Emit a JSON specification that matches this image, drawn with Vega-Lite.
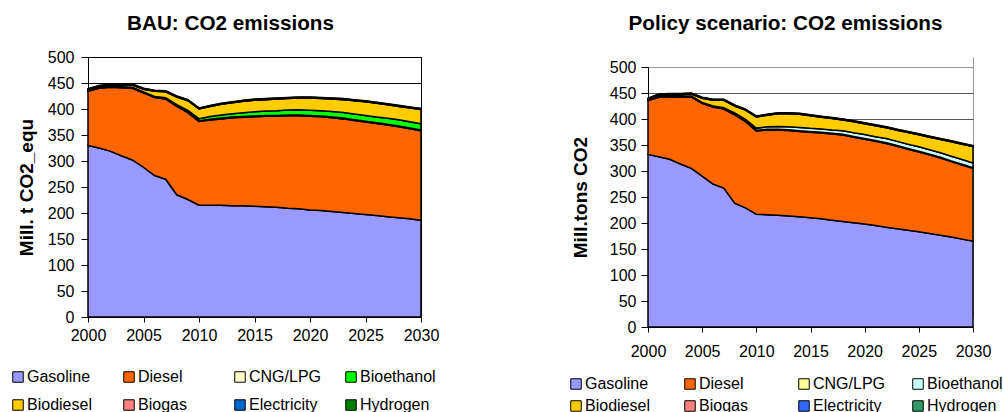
{
"$schema": "https://vega.github.io/schema/vega-lite/v6.json",
"padding": {"left": 9, "top": 12, "right": 4, "bottom": 0},
"spacing": 128,
"config": {
 "font": "Liberation Sans",
 "axis": {"labelFont": "Liberation Sans", "labelFontSize": 16, "labelColor": "black", "tickColor": "black", "domainColor": "black", "titleFont": "Liberation Sans", "titleFontSize": 19, "titleFontWeight": "bold", "titleColor": "black"},
 "title": {"font": "Liberation Sans", "fontSize": 20.7, "fontWeight": "bold", "color": "black"},
 "legend": {"labelFont": "Liberation Sans", "labelFontSize": 16, "labelColor": "black", "symbolType": "square", "symbolSize": 110, "symbolStrokeColor": "black", "symbolStrokeWidth": 1, "symbolOpacity": 1, "labelOffset": 1, "labelLimit": 0, "columns": 4, "direction": "horizontal", "gridAlign": "all", "columnPadding": 18}
},
"datasets": {
"bau": [
{"year":2000,"fuel":"Gasoline","value":330},{"year":2001,"fuel":"Gasoline","value":325},{"year":2002,"fuel":"Gasoline","value":319},{"year":2003,"fuel":"Gasoline","value":310},{"year":2004,"fuel":"Gasoline","value":302},{"year":2005,"fuel":"Gasoline","value":288},{"year":2006,"fuel":"Gasoline","value":272},{"year":2007,"fuel":"Gasoline","value":265},{"year":2008,"fuel":"Gasoline","value":235},{"year":2009,"fuel":"Gasoline","value":226},{"year":2010,"fuel":"Gasoline","value":215},{"year":2011,"fuel":"Gasoline","value":215},{"year":2012,"fuel":"Gasoline","value":215},{"year":2013,"fuel":"Gasoline","value":214},{"year":2014,"fuel":"Gasoline","value":214},{"year":2015,"fuel":"Gasoline","value":213},{"year":2016,"fuel":"Gasoline","value":212},{"year":2017,"fuel":"Gasoline","value":211},{"year":2018,"fuel":"Gasoline","value":209},{"year":2019,"fuel":"Gasoline","value":208},{"year":2020,"fuel":"Gasoline","value":206},{"year":2021,"fuel":"Gasoline","value":205},{"year":2022,"fuel":"Gasoline","value":203},{"year":2023,"fuel":"Gasoline","value":201},{"year":2024,"fuel":"Gasoline","value":199},{"year":2025,"fuel":"Gasoline","value":197},{"year":2026,"fuel":"Gasoline","value":195},{"year":2027,"fuel":"Gasoline","value":193},{"year":2028,"fuel":"Gasoline","value":191},{"year":2029,"fuel":"Gasoline","value":189},{"year":2030,"fuel":"Gasoline","value":186},
{"year":2000,"fuel":"Diesel","value":104},{"year":2001,"fuel":"Diesel","value":115},{"year":2002,"fuel":"Diesel","value":123},{"year":2003,"fuel":"Diesel","value":131},{"year":2004,"fuel":"Diesel","value":138},{"year":2005,"fuel":"Diesel","value":143},{"year":2006,"fuel":"Diesel","value":150},{"year":2007,"fuel":"Diesel","value":154},{"year":2008,"fuel":"Diesel","value":170},{"year":2009,"fuel":"Diesel","value":167},{"year":2010,"fuel":"Diesel","value":161},{"year":2011,"fuel":"Diesel","value":164},{"year":2012,"fuel":"Diesel","value":166},{"year":2013,"fuel":"Diesel","value":169},{"year":2014,"fuel":"Diesel","value":170},{"year":2015,"fuel":"Diesel","value":172},{"year":2016,"fuel":"Diesel","value":174},{"year":2017,"fuel":"Diesel","value":175},{"year":2018,"fuel":"Diesel","value":178},{"year":2019,"fuel":"Diesel","value":179},{"year":2020,"fuel":"Diesel","value":180},{"year":2021,"fuel":"Diesel","value":180},{"year":2022,"fuel":"Diesel","value":180},{"year":2023,"fuel":"Diesel","value":180},{"year":2024,"fuel":"Diesel","value":179},{"year":2025,"fuel":"Diesel","value":178},{"year":2026,"fuel":"Diesel","value":177},{"year":2027,"fuel":"Diesel","value":176},{"year":2028,"fuel":"Diesel","value":175},{"year":2029,"fuel":"Diesel","value":173},{"year":2030,"fuel":"Diesel","value":172},
{"year":2000,"fuel":"CNG/LPG","value":1.5},{"year":2001,"fuel":"CNG/LPG","value":1.5},{"year":2002,"fuel":"CNG/LPG","value":1.5},{"year":2003,"fuel":"CNG/LPG","value":1.5},{"year":2004,"fuel":"CNG/LPG","value":1.5},{"year":2005,"fuel":"CNG/LPG","value":1.5},{"year":2006,"fuel":"CNG/LPG","value":1.5},{"year":2007,"fuel":"CNG/LPG","value":1.5},{"year":2008,"fuel":"CNG/LPG","value":1.5},{"year":2009,"fuel":"CNG/LPG","value":1.5},{"year":2010,"fuel":"CNG/LPG","value":1.5},{"year":2011,"fuel":"CNG/LPG","value":1.5},{"year":2012,"fuel":"CNG/LPG","value":1.5},{"year":2013,"fuel":"CNG/LPG","value":1.5},{"year":2014,"fuel":"CNG/LPG","value":1.5},{"year":2015,"fuel":"CNG/LPG","value":1.5},{"year":2016,"fuel":"CNG/LPG","value":1.5},{"year":2017,"fuel":"CNG/LPG","value":1.5},{"year":2018,"fuel":"CNG/LPG","value":1.5},{"year":2019,"fuel":"CNG/LPG","value":1.5},{"year":2020,"fuel":"CNG/LPG","value":1.5},{"year":2021,"fuel":"CNG/LPG","value":1.5},{"year":2022,"fuel":"CNG/LPG","value":1.5},{"year":2023,"fuel":"CNG/LPG","value":1.5},{"year":2024,"fuel":"CNG/LPG","value":1.5},{"year":2025,"fuel":"CNG/LPG","value":1.5},{"year":2026,"fuel":"CNG/LPG","value":1.5},{"year":2027,"fuel":"CNG/LPG","value":1.5},{"year":2028,"fuel":"CNG/LPG","value":1.5},{"year":2029,"fuel":"CNG/LPG","value":1.5},{"year":2030,"fuel":"CNG/LPG","value":1.5},
{"year":2000,"fuel":"Bioethanol","value":0.5},{"year":2001,"fuel":"Bioethanol","value":0.5},{"year":2002,"fuel":"Bioethanol","value":0.5},{"year":2003,"fuel":"Bioethanol","value":0.5},{"year":2004,"fuel":"Bioethanol","value":0.5},{"year":2005,"fuel":"Bioethanol","value":0.5},{"year":2006,"fuel":"Bioethanol","value":0.5},{"year":2007,"fuel":"Bioethanol","value":1},{"year":2008,"fuel":"Bioethanol","value":2},{"year":2009,"fuel":"Bioethanol","value":3},{"year":2010,"fuel":"Bioethanol","value":4},{"year":2011,"fuel":"Bioethanol","value":5},{"year":2012,"fuel":"Bioethanol","value":6},{"year":2013,"fuel":"Bioethanol","value":6.5},{"year":2014,"fuel":"Bioethanol","value":7.5},{"year":2015,"fuel":"Bioethanol","value":8},{"year":2016,"fuel":"Bioethanol","value":8.5},{"year":2017,"fuel":"Bioethanol","value":9},{"year":2018,"fuel":"Bioethanol","value":9.5},{"year":2019,"fuel":"Bioethanol","value":10},{"year":2020,"fuel":"Bioethanol","value":10},{"year":2021,"fuel":"Bioethanol","value":10.2},{"year":2022,"fuel":"Bioethanol","value":10.5},{"year":2023,"fuel":"Bioethanol","value":10.7},{"year":2024,"fuel":"Bioethanol","value":11},{"year":2025,"fuel":"Bioethanol","value":11},{"year":2026,"fuel":"Bioethanol","value":11.3},{"year":2027,"fuel":"Bioethanol","value":11.5},{"year":2028,"fuel":"Bioethanol","value":11.7},{"year":2029,"fuel":"Bioethanol","value":12},{"year":2030,"fuel":"Bioethanol","value":12},
{"year":2000,"fuel":"Biodiesel","value":1},{"year":2001,"fuel":"Biodiesel","value":1},{"year":2002,"fuel":"Biodiesel","value":2},{"year":2003,"fuel":"Biodiesel","value":3},{"year":2004,"fuel":"Biodiesel","value":4},{"year":2005,"fuel":"Biodiesel","value":5},{"year":2006,"fuel":"Biodiesel","value":10},{"year":2007,"fuel":"Biodiesel","value":11.5},{"year":2008,"fuel":"Biodiesel","value":14.5},{"year":2009,"fuel":"Biodiesel","value":18.5},{"year":2010,"fuel":"Biodiesel","value":18.5},{"year":2011,"fuel":"Biodiesel","value":19.5},{"year":2012,"fuel":"Biodiesel","value":20.5},{"year":2013,"fuel":"Biodiesel","value":21},{"year":2014,"fuel":"Biodiesel","value":22},{"year":2015,"fuel":"Biodiesel","value":22.5},{"year":2016,"fuel":"Biodiesel","value":22},{"year":2017,"fuel":"Biodiesel","value":22.5},{"year":2018,"fuel":"Biodiesel","value":22},{"year":2019,"fuel":"Biodiesel","value":22.5},{"year":2020,"fuel":"Biodiesel","value":23.5},{"year":2021,"fuel":"Biodiesel","value":23.3},{"year":2022,"fuel":"Biodiesel","value":24},{"year":2023,"fuel":"Biodiesel","value":24.8},{"year":2024,"fuel":"Biodiesel","value":25.5},{"year":2025,"fuel":"Biodiesel","value":26.5},{"year":2026,"fuel":"Biodiesel","value":26.2},{"year":2027,"fuel":"Biodiesel","value":26},{"year":2028,"fuel":"Biodiesel","value":25.8},{"year":2029,"fuel":"Biodiesel","value":26.5},{"year":2030,"fuel":"Biodiesel","value":27.5},
{"year":2000,"fuel":"Biogas","value":0.5},{"year":2001,"fuel":"Biogas","value":0.5},{"year":2002,"fuel":"Biogas","value":0.5},{"year":2003,"fuel":"Biogas","value":0.5},{"year":2004,"fuel":"Biogas","value":0.5},{"year":2005,"fuel":"Biogas","value":0.5},{"year":2006,"fuel":"Biogas","value":0.5},{"year":2007,"fuel":"Biogas","value":0.5},{"year":2008,"fuel":"Biogas","value":0.5},{"year":2009,"fuel":"Biogas","value":0.5},{"year":2010,"fuel":"Biogas","value":0.5},{"year":2011,"fuel":"Biogas","value":0.5},{"year":2012,"fuel":"Biogas","value":0.5},{"year":2013,"fuel":"Biogas","value":0.5},{"year":2014,"fuel":"Biogas","value":0.5},{"year":2015,"fuel":"Biogas","value":0.5},{"year":2016,"fuel":"Biogas","value":0.5},{"year":2017,"fuel":"Biogas","value":0.5},{"year":2018,"fuel":"Biogas","value":0.5},{"year":2019,"fuel":"Biogas","value":0.5},{"year":2020,"fuel":"Biogas","value":0.5},{"year":2021,"fuel":"Biogas","value":0.5},{"year":2022,"fuel":"Biogas","value":0.5},{"year":2023,"fuel":"Biogas","value":0.5},{"year":2024,"fuel":"Biogas","value":0.5},{"year":2025,"fuel":"Biogas","value":0.5},{"year":2026,"fuel":"Biogas","value":0.5},{"year":2027,"fuel":"Biogas","value":0.5},{"year":2028,"fuel":"Biogas","value":0.5},{"year":2029,"fuel":"Biogas","value":0.5},{"year":2030,"fuel":"Biogas","value":0.5},
{"year":2000,"fuel":"Electricity","value":1},{"year":2001,"fuel":"Electricity","value":1},{"year":2002,"fuel":"Electricity","value":1},{"year":2003,"fuel":"Electricity","value":1},{"year":2004,"fuel":"Electricity","value":1},{"year":2005,"fuel":"Electricity","value":1},{"year":2006,"fuel":"Electricity","value":1},{"year":2007,"fuel":"Electricity","value":1},{"year":2008,"fuel":"Electricity","value":1},{"year":2009,"fuel":"Electricity","value":1},{"year":2010,"fuel":"Electricity","value":1},{"year":2011,"fuel":"Electricity","value":1},{"year":2012,"fuel":"Electricity","value":1},{"year":2013,"fuel":"Electricity","value":1},{"year":2014,"fuel":"Electricity","value":1},{"year":2015,"fuel":"Electricity","value":1},{"year":2016,"fuel":"Electricity","value":1},{"year":2017,"fuel":"Electricity","value":1},{"year":2018,"fuel":"Electricity","value":1},{"year":2019,"fuel":"Electricity","value":1},{"year":2020,"fuel":"Electricity","value":1},{"year":2021,"fuel":"Electricity","value":1},{"year":2022,"fuel":"Electricity","value":1},{"year":2023,"fuel":"Electricity","value":1},{"year":2024,"fuel":"Electricity","value":1},{"year":2025,"fuel":"Electricity","value":1},{"year":2026,"fuel":"Electricity","value":1},{"year":2027,"fuel":"Electricity","value":1},{"year":2028,"fuel":"Electricity","value":1},{"year":2029,"fuel":"Electricity","value":1},{"year":2030,"fuel":"Electricity","value":1},
{"year":2000,"fuel":"Hydrogen","value":0.5},{"year":2001,"fuel":"Hydrogen","value":0.5},{"year":2002,"fuel":"Hydrogen","value":0.5},{"year":2003,"fuel":"Hydrogen","value":0.5},{"year":2004,"fuel":"Hydrogen","value":0.5},{"year":2005,"fuel":"Hydrogen","value":0.5},{"year":2006,"fuel":"Hydrogen","value":0.5},{"year":2007,"fuel":"Hydrogen","value":0.5},{"year":2008,"fuel":"Hydrogen","value":0.5},{"year":2009,"fuel":"Hydrogen","value":0.5},{"year":2010,"fuel":"Hydrogen","value":0.5},{"year":2011,"fuel":"Hydrogen","value":0.5},{"year":2012,"fuel":"Hydrogen","value":0.5},{"year":2013,"fuel":"Hydrogen","value":0.5},{"year":2014,"fuel":"Hydrogen","value":0.5},{"year":2015,"fuel":"Hydrogen","value":0.5},{"year":2016,"fuel":"Hydrogen","value":0.5},{"year":2017,"fuel":"Hydrogen","value":0.5},{"year":2018,"fuel":"Hydrogen","value":0.5},{"year":2019,"fuel":"Hydrogen","value":0.5},{"year":2020,"fuel":"Hydrogen","value":0.5},{"year":2021,"fuel":"Hydrogen","value":0.5},{"year":2022,"fuel":"Hydrogen","value":0.5},{"year":2023,"fuel":"Hydrogen","value":0.5},{"year":2024,"fuel":"Hydrogen","value":0.5},{"year":2025,"fuel":"Hydrogen","value":0.5},{"year":2026,"fuel":"Hydrogen","value":0.5},{"year":2027,"fuel":"Hydrogen","value":0.5},{"year":2028,"fuel":"Hydrogen","value":0.5},{"year":2029,"fuel":"Hydrogen","value":0.5},{"year":2030,"fuel":"Hydrogen","value":0.5}
],
"policy": [
{"year":2000,"fuel":"Gasoline","value":332},{"year":2001,"fuel":"Gasoline","value":327.5},{"year":2002,"fuel":"Gasoline","value":322.5},{"year":2003,"fuel":"Gasoline","value":313.5},{"year":2004,"fuel":"Gasoline","value":305},{"year":2005,"fuel":"Gasoline","value":290},{"year":2006,"fuel":"Gasoline","value":275},{"year":2007,"fuel":"Gasoline","value":267},{"year":2008,"fuel":"Gasoline","value":238},{"year":2009,"fuel":"Gasoline","value":229},{"year":2010,"fuel":"Gasoline","value":217},{"year":2011,"fuel":"Gasoline","value":216},{"year":2012,"fuel":"Gasoline","value":215},{"year":2013,"fuel":"Gasoline","value":213.5},{"year":2014,"fuel":"Gasoline","value":212},{"year":2015,"fuel":"Gasoline","value":210},{"year":2016,"fuel":"Gasoline","value":208},{"year":2017,"fuel":"Gasoline","value":205.5},{"year":2018,"fuel":"Gasoline","value":203},{"year":2019,"fuel":"Gasoline","value":200.5},{"year":2020,"fuel":"Gasoline","value":198},{"year":2021,"fuel":"Gasoline","value":195},{"year":2022,"fuel":"Gasoline","value":192},{"year":2023,"fuel":"Gasoline","value":189},{"year":2024,"fuel":"Gasoline","value":186},{"year":2025,"fuel":"Gasoline","value":183},{"year":2026,"fuel":"Gasoline","value":180},{"year":2027,"fuel":"Gasoline","value":176.5},{"year":2028,"fuel":"Gasoline","value":173},{"year":2029,"fuel":"Gasoline","value":169},{"year":2030,"fuel":"Gasoline","value":165},
{"year":2000,"fuel":"Diesel","value":103.5},{"year":2001,"fuel":"Diesel","value":114.5},{"year":2002,"fuel":"Diesel","value":120.5},{"year":2003,"fuel":"Diesel","value":128.5},{"year":2004,"fuel":"Diesel","value":137},{"year":2005,"fuel":"Diesel","value":140},{"year":2006,"fuel":"Diesel","value":148},{"year":2007,"fuel":"Diesel","value":152},{"year":2008,"fuel":"Diesel","value":170},{"year":2009,"fuel":"Diesel","value":166},{"year":2010,"fuel":"Diesel","value":160},{"year":2011,"fuel":"Diesel","value":163},{"year":2012,"fuel":"Diesel","value":164},{"year":2013,"fuel":"Diesel","value":164.5},{"year":2014,"fuel":"Diesel","value":164},{"year":2015,"fuel":"Diesel","value":164.5},{"year":2016,"fuel":"Diesel","value":165},{"year":2017,"fuel":"Diesel","value":165.5},{"year":2018,"fuel":"Diesel","value":166},{"year":2019,"fuel":"Diesel","value":164.5},{"year":2020,"fuel":"Diesel","value":163},{"year":2021,"fuel":"Diesel","value":162},{"year":2022,"fuel":"Diesel","value":161},{"year":2023,"fuel":"Diesel","value":158.5},{"year":2024,"fuel":"Diesel","value":156},{"year":2025,"fuel":"Diesel","value":153.5},{"year":2026,"fuel":"Diesel","value":151},{"year":2027,"fuel":"Diesel","value":148.5},{"year":2028,"fuel":"Diesel","value":145},{"year":2029,"fuel":"Diesel","value":142.5},{"year":2030,"fuel":"Diesel","value":140},
{"year":2000,"fuel":"CNG/LPG","value":1.5},{"year":2001,"fuel":"CNG/LPG","value":1.5},{"year":2002,"fuel":"CNG/LPG","value":1.5},{"year":2003,"fuel":"CNG/LPG","value":1.5},{"year":2004,"fuel":"CNG/LPG","value":1.5},{"year":2005,"fuel":"CNG/LPG","value":1.5},{"year":2006,"fuel":"CNG/LPG","value":1.5},{"year":2007,"fuel":"CNG/LPG","value":1.5},{"year":2008,"fuel":"CNG/LPG","value":1.5},{"year":2009,"fuel":"CNG/LPG","value":1.5},{"year":2010,"fuel":"CNG/LPG","value":1.5},{"year":2011,"fuel":"CNG/LPG","value":1.5},{"year":2012,"fuel":"CNG/LPG","value":1.5},{"year":2013,"fuel":"CNG/LPG","value":1.5},{"year":2014,"fuel":"CNG/LPG","value":1.5},{"year":2015,"fuel":"CNG/LPG","value":1.5},{"year":2016,"fuel":"CNG/LPG","value":1.5},{"year":2017,"fuel":"CNG/LPG","value":1.5},{"year":2018,"fuel":"CNG/LPG","value":1.5},{"year":2019,"fuel":"CNG/LPG","value":1.5},{"year":2020,"fuel":"CNG/LPG","value":1.5},{"year":2021,"fuel":"CNG/LPG","value":1.5},{"year":2022,"fuel":"CNG/LPG","value":1.5},{"year":2023,"fuel":"CNG/LPG","value":1.5},{"year":2024,"fuel":"CNG/LPG","value":1.5},{"year":2025,"fuel":"CNG/LPG","value":1.5},{"year":2026,"fuel":"CNG/LPG","value":1.5},{"year":2027,"fuel":"CNG/LPG","value":1.5},{"year":2028,"fuel":"CNG/LPG","value":1.5},{"year":2029,"fuel":"CNG/LPG","value":1.5},{"year":2030,"fuel":"CNG/LPG","value":1.5},
{"year":2000,"fuel":"Bioethanol","value":0.5},{"year":2001,"fuel":"Bioethanol","value":0.5},{"year":2002,"fuel":"Bioethanol","value":0.5},{"year":2003,"fuel":"Bioethanol","value":0.5},{"year":2004,"fuel":"Bioethanol","value":0.5},{"year":2005,"fuel":"Bioethanol","value":0.5},{"year":2006,"fuel":"Bioethanol","value":0.5},{"year":2007,"fuel":"Bioethanol","value":1},{"year":2008,"fuel":"Bioethanol","value":2},{"year":2009,"fuel":"Bioethanol","value":3},{"year":2010,"fuel":"Bioethanol","value":4},{"year":2011,"fuel":"Bioethanol","value":4.5},{"year":2012,"fuel":"Bioethanol","value":5},{"year":2013,"fuel":"Bioethanol","value":5.5},{"year":2014,"fuel":"Bioethanol","value":6},{"year":2015,"fuel":"Bioethanol","value":6},{"year":2016,"fuel":"Bioethanol","value":6.5},{"year":2017,"fuel":"Bioethanol","value":6.5},{"year":2018,"fuel":"Bioethanol","value":7},{"year":2019,"fuel":"Bioethanol","value":7},{"year":2020,"fuel":"Bioethanol","value":7.5},{"year":2021,"fuel":"Bioethanol","value":7.5},{"year":2022,"fuel":"Bioethanol","value":8},{"year":2023,"fuel":"Bioethanol","value":8},{"year":2024,"fuel":"Bioethanol","value":8},{"year":2025,"fuel":"Bioethanol","value":8.5},{"year":2026,"fuel":"Bioethanol","value":8.5},{"year":2027,"fuel":"Bioethanol","value":8.5},{"year":2028,"fuel":"Bioethanol","value":9},{"year":2029,"fuel":"Bioethanol","value":9},{"year":2030,"fuel":"Bioethanol","value":9},
{"year":2000,"fuel":"Biodiesel","value":0.5},{"year":2001,"fuel":"Biodiesel","value":2},{"year":2002,"fuel":"Biodiesel","value":2},{"year":2003,"fuel":"Biodiesel","value":3},{"year":2004,"fuel":"Biodiesel","value":4},{"year":2005,"fuel":"Biodiesel","value":8},{"year":2006,"fuel":"Biodiesel","value":11},{"year":2007,"fuel":"Biodiesel","value":14.5},{"year":2008,"fuel":"Biodiesel","value":13.5},{"year":2009,"fuel":"Biodiesel","value":17.5},{"year":2010,"fuel":"Biodiesel","value":21.5},{"year":2011,"fuel":"Biodiesel","value":22},{"year":2012,"fuel":"Biodiesel","value":24.5},{"year":2013,"fuel":"Biodiesel","value":25},{"year":2014,"fuel":"Biodiesel","value":25.5},{"year":2015,"fuel":"Biodiesel","value":24},{"year":2016,"fuel":"Biodiesel","value":22.5},{"year":2017,"fuel":"Biodiesel","value":22},{"year":2018,"fuel":"Biodiesel","value":20.5},{"year":2019,"fuel":"Biodiesel","value":21},{"year":2020,"fuel":"Biodiesel","value":21},{"year":2021,"fuel":"Biodiesel","value":21},{"year":2022,"fuel":"Biodiesel","value":20.5},{"year":2023,"fuel":"Biodiesel","value":21.5},{"year":2024,"fuel":"Biodiesel","value":22.5},{"year":2025,"fuel":"Biodiesel","value":23},{"year":2026,"fuel":"Biodiesel","value":24},{"year":2027,"fuel":"Biodiesel","value":25.5},{"year":2028,"fuel":"Biodiesel","value":27.5},{"year":2029,"fuel":"Biodiesel","value":29.5},{"year":2030,"fuel":"Biodiesel","value":31.5},
{"year":2000,"fuel":"Biogas","value":0.5},{"year":2001,"fuel":"Biogas","value":0.5},{"year":2002,"fuel":"Biogas","value":0.5},{"year":2003,"fuel":"Biogas","value":0.5},{"year":2004,"fuel":"Biogas","value":0.5},{"year":2005,"fuel":"Biogas","value":0.5},{"year":2006,"fuel":"Biogas","value":0.5},{"year":2007,"fuel":"Biogas","value":0.5},{"year":2008,"fuel":"Biogas","value":0.5},{"year":2009,"fuel":"Biogas","value":0.5},{"year":2010,"fuel":"Biogas","value":0.5},{"year":2011,"fuel":"Biogas","value":0.5},{"year":2012,"fuel":"Biogas","value":0.5},{"year":2013,"fuel":"Biogas","value":0.5},{"year":2014,"fuel":"Biogas","value":0.5},{"year":2015,"fuel":"Biogas","value":0.5},{"year":2016,"fuel":"Biogas","value":0.5},{"year":2017,"fuel":"Biogas","value":0.5},{"year":2018,"fuel":"Biogas","value":0.5},{"year":2019,"fuel":"Biogas","value":0.5},{"year":2020,"fuel":"Biogas","value":0.5},{"year":2021,"fuel":"Biogas","value":0.5},{"year":2022,"fuel":"Biogas","value":0.5},{"year":2023,"fuel":"Biogas","value":0.5},{"year":2024,"fuel":"Biogas","value":0.5},{"year":2025,"fuel":"Biogas","value":0.5},{"year":2026,"fuel":"Biogas","value":0.5},{"year":2027,"fuel":"Biogas","value":0.5},{"year":2028,"fuel":"Biogas","value":0.5},{"year":2029,"fuel":"Biogas","value":0.5},{"year":2030,"fuel":"Biogas","value":0.5},
{"year":2000,"fuel":"Electricity","value":1},{"year":2001,"fuel":"Electricity","value":1},{"year":2002,"fuel":"Electricity","value":1},{"year":2003,"fuel":"Electricity","value":1},{"year":2004,"fuel":"Electricity","value":1},{"year":2005,"fuel":"Electricity","value":1},{"year":2006,"fuel":"Electricity","value":1},{"year":2007,"fuel":"Electricity","value":1},{"year":2008,"fuel":"Electricity","value":1},{"year":2009,"fuel":"Electricity","value":1},{"year":2010,"fuel":"Electricity","value":1},{"year":2011,"fuel":"Electricity","value":1},{"year":2012,"fuel":"Electricity","value":1},{"year":2013,"fuel":"Electricity","value":1},{"year":2014,"fuel":"Electricity","value":1},{"year":2015,"fuel":"Electricity","value":1},{"year":2016,"fuel":"Electricity","value":1},{"year":2017,"fuel":"Electricity","value":1},{"year":2018,"fuel":"Electricity","value":1},{"year":2019,"fuel":"Electricity","value":1},{"year":2020,"fuel":"Electricity","value":1},{"year":2021,"fuel":"Electricity","value":1},{"year":2022,"fuel":"Electricity","value":1},{"year":2023,"fuel":"Electricity","value":1},{"year":2024,"fuel":"Electricity","value":1},{"year":2025,"fuel":"Electricity","value":1},{"year":2026,"fuel":"Electricity","value":1},{"year":2027,"fuel":"Electricity","value":1},{"year":2028,"fuel":"Electricity","value":1},{"year":2029,"fuel":"Electricity","value":1},{"year":2030,"fuel":"Electricity","value":1},
{"year":2000,"fuel":"Hydrogen","value":0.5},{"year":2001,"fuel":"Hydrogen","value":0.5},{"year":2002,"fuel":"Hydrogen","value":0.5},{"year":2003,"fuel":"Hydrogen","value":0.5},{"year":2004,"fuel":"Hydrogen","value":0.5},{"year":2005,"fuel":"Hydrogen","value":0.5},{"year":2006,"fuel":"Hydrogen","value":0.5},{"year":2007,"fuel":"Hydrogen","value":0.5},{"year":2008,"fuel":"Hydrogen","value":0.5},{"year":2009,"fuel":"Hydrogen","value":0.5},{"year":2010,"fuel":"Hydrogen","value":0.5},{"year":2011,"fuel":"Hydrogen","value":0.5},{"year":2012,"fuel":"Hydrogen","value":0.5},{"year":2013,"fuel":"Hydrogen","value":0.5},{"year":2014,"fuel":"Hydrogen","value":0.5},{"year":2015,"fuel":"Hydrogen","value":0.5},{"year":2016,"fuel":"Hydrogen","value":0.5},{"year":2017,"fuel":"Hydrogen","value":0.5},{"year":2018,"fuel":"Hydrogen","value":0.5},{"year":2019,"fuel":"Hydrogen","value":0.5},{"year":2020,"fuel":"Hydrogen","value":0.5},{"year":2021,"fuel":"Hydrogen","value":0.5},{"year":2022,"fuel":"Hydrogen","value":0.5},{"year":2023,"fuel":"Hydrogen","value":0.5},{"year":2024,"fuel":"Hydrogen","value":0.5},{"year":2025,"fuel":"Hydrogen","value":0.5},{"year":2026,"fuel":"Hydrogen","value":0.5},{"year":2027,"fuel":"Hydrogen","value":0.5},{"year":2028,"fuel":"Hydrogen","value":0.5},{"year":2029,"fuel":"Hydrogen","value":0.5},{"year":2030,"fuel":"Hydrogen","value":0.5}
]
},
"resolve": {"scale": {"color": "independent"}, "legend": {"color": "independent"}},
"hconcat": [
{
 "data": {"name": "bau"},
 "width": 333, "height": 260,
 "view": {"stroke": "black", "strokeWidth": 1},
 "title": {"text": "BAU: CO2 emissions", "frame": "group", "anchor": "middle", "dx": -24, "offset": 14},
 "transform": [{"calculate": "indexof(['Gasoline','Diesel','CNG/LPG','Bioethanol','Biodiesel','Biogas','Electricity','Hydrogen'], datum.fuel)", "as": "k"}],
 "mark": {"type": "area", "stroke": "black", "strokeWidth": 1.5, "interpolate": "linear", "opacity": 1},
 "encoding": {
  "x": {"field": "year", "type": "quantitative", "scale": {"domain": [2000, 2030], "nice": false}, "axis": {"values": [2000, 2005, 2010, 2015, 2020, 2025, 2030], "format": "d", "title": null, "grid": false, "labelFlush": false, "tickSize": 5, "labelPadding": 5}},
  "y": {"field": "value", "type": "quantitative", "stack": "zero", "scale": {"domain": [0, 500], "nice": false}, "axis": {"values": [0, 50, 100, 150, 200, 250, 300, 350, 400, 450, 500], "title": "Mill. t CO2_equ", "grid": true, "gridColor": "black", "gridOpacity": 1, "tickSize": 7, "labelPadding": 7, "titlePadding": 11}},
  "color": {"field": "fuel", "type": "nominal", "scale": {"domain": ["Gasoline", "Diesel", "CNG/LPG", "Bioethanol", "Biodiesel", "Biogas", "Electricity", "Hydrogen"], "range": ["#9999FF", "#FF6600", "#FFFFCC", "#00FF00", "#FFCC00", "#FF8080", "#0066CC", "#008000"]}, "legend": {"orient": "none", "legendX": -78, "legendY": 312, "title": null, "rowPadding": 12}},
  "order": {"field": "k", "type": "quantitative"}
 }
},
{
 "data": {"name": "policy"},
 "width": 325, "height": 270,
 "view": {"stroke": null},
 "title": {"text": "Policy scenario: CO2 emissions", "frame": "group", "anchor": "middle", "dx": -25, "offset": 22},
 "transform": [{"calculate": "indexof(['Gasoline','Diesel','CNG/LPG','Bioethanol','Biodiesel','Biogas','Electricity','Hydrogen'], datum.fuel)", "as": "k"}],
 "mark": {"type": "area", "stroke": "black", "strokeWidth": 1.5, "interpolate": "linear", "opacity": 1},
 "encoding": {
  "x": {"field": "year", "type": "quantitative", "scale": {"domain": [2000, 2030], "nice": false}, "axis": {"values": [2000, 2005, 2010, 2015, 2020, 2025, 2030], "format": "d", "title": null, "grid": true, "gridColor": "#999999", "gridOpacity": {"condition": {"test": "datum.value === 2030", "value": 1}, "value": 0}, "labelFlush": false, "tickSize": 5, "labelPadding": 11}},
  "y": {"field": "value", "type": "quantitative", "stack": "zero", "scale": {"domain": [0, 500], "nice": false, "range": [270, 10]}, "axis": {"values": [0, 50, 100, 150, 200, 250, 300, 350, 400, 450, 500], "title": "Mill.tons CO2", "grid": true, "gridColor": {"condition": {"test": "datum.value === 500", "value": "#999999"}, "value": "#555555"}, "gridOpacity": 1, "tickSize": 7, "labelPadding": 5, "titlePadding": 19}},
  "color": {"field": "fuel", "type": "nominal", "scale": {"domain": ["Gasoline", "Diesel", "CNG/LPG", "Bioethanol", "Biodiesel", "Biogas", "Electricity", "Hydrogen"], "range": ["#9999FF", "#FF6600", "#FFFF99", "#CCFFFF", "#FFCC00", "#FF8080", "#3366FF", "#339966"]}, "legend": {"orient": "none", "legendX": -80, "legendY": 319, "title": null, "rowPadding": 6, "columnPadding": 21}},
  "order": {"field": "k", "type": "quantitative"}
 }
}
]
}
